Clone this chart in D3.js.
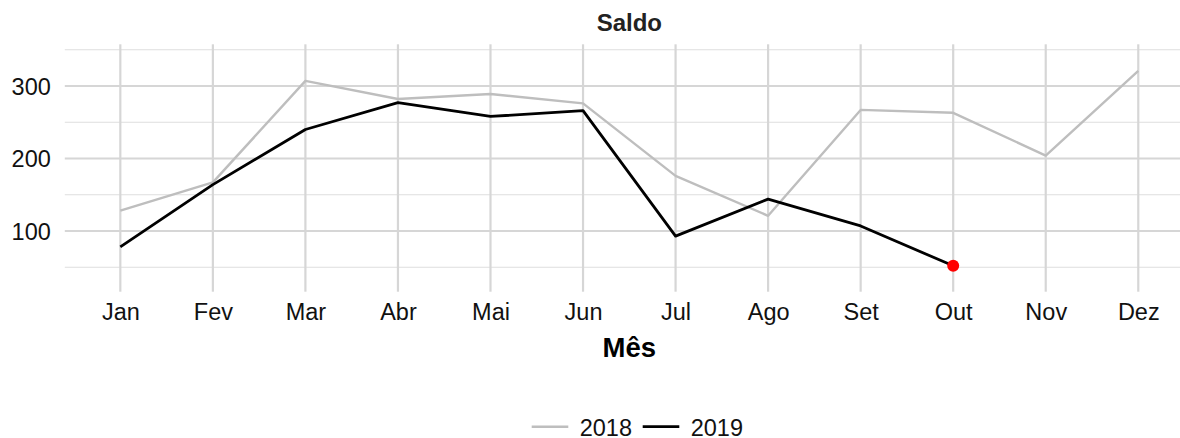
<!DOCTYPE html>
<html>
<head>
<meta charset="utf-8">
<script src="https://cdn.jsdelivr.net/npm/d3@7"></script>
<style>
  html, body { margin: 0; padding: 0; background: #fff; }
  svg { display: block; font-family: "Liberation Sans", Arial, sans-serif; }
</style>
</head>
<body>
<svg id="chart" width="1180" height="438"></svg>
<script>
const months = ["Jan","Fev","Mar","Abr","Mai","Jun","Jul","Ago","Set","Out","Nov","Dez"];
const saldo2018 = [128, 167, 307, 282, 289, 276, 176, 121, 267, 263, 204, 321];
const saldo2019 = [78, 164, 240, 277, 258, 266, 93, 144, 107, 52];
const yMajorTicks = [100, 200, 300];
const yMinorTicks = [50, 150, 250, 350];
const seriesNames = ["2018", "2019"];

(function () {
const svg = d3.select("#chart");
const pLeft = 64.8, pRight = 1193.8, pTop = 44.3, pBottom = 291.7;

const x = d3.scalePoint().domain(months).range([pLeft, pRight]).padding(0.6);
const y = d3.scaleLinear().domain([16.3, 357.5]).range([pBottom, pTop]);

const grid = svg.append("g");
grid.selectAll("line.minor").data(yMinorTicks).enter().append("line")
  .attr("x1", pLeft).attr("x2", pRight)
  .attr("y1", d => y(d)).attr("y2", d => y(d))
  .attr("stroke", "#dedede").attr("stroke-width", 1.2);
grid.selectAll("line.majorh").data(yMajorTicks).enter().append("line")
  .attr("x1", pLeft).attr("x2", pRight)
  .attr("y1", d => y(d)).attr("y2", d => y(d))
  .attr("stroke", "#d6d6d6").attr("stroke-width", 2.2);
grid.selectAll("line.majorv").data(months).enter().append("line")
  .attr("x1", d => x(d)).attr("x2", d => x(d))
  .attr("y1", pTop).attr("y2", pBottom)
  .attr("stroke", "#d6d6d6").attr("stroke-width", 2.2);

// axes
const yAxis = d3.axisLeft(y).tickValues(yMajorTicks).tickSize(0).tickPadding(14);
const yg = svg.append("g").attr("transform", `translate(${pLeft},0)`).call(yAxis);
yg.select(".domain").remove();
yg.selectAll("text").attr("font-size", 23.5).attr("fill", "#111")
  .attr("font-family", "Liberation Sans, Arial, sans-serif").attr("dy", "0.36em");

const xAxis = d3.axisBottom(x).tickSize(0).tickPadding(12);
const xg = svg.append("g").attr("transform", `translate(0,${pBottom})`).call(xAxis);
xg.select(".domain").remove();
xg.selectAll("text").attr("font-size", 23.5).attr("fill", "#111")
  .attr("font-family", "Liberation Sans, Arial, sans-serif");

// lines
const line = d3.line().x((d, i) => x(months[i])).y(d => y(d));
svg.append("path").datum(saldo2018).attr("d", line)
  .attr("fill", "none").attr("stroke", "#bebebe").attr("stroke-width", 2.4)
  .attr("stroke-linejoin", "round");
svg.append("path").datum(saldo2019).attr("d", line)
  .attr("fill", "none").attr("stroke", "#000").attr("stroke-width", 2.8)
  .attr("stroke-linejoin", "round");

// last point
const lastIdx = saldo2019.length - 1;
svg.append("circle")
  .attr("cx", x(months[lastIdx])).attr("cy", y(saldo2019[lastIdx]))
  .attr("r", 6).attr("fill", "#ff0000");

// title
svg.append("text").attr("x", (pLeft + pRight) / 2).attr("y", 30.7)
  .attr("text-anchor", "middle").attr("font-size", 24).attr("font-weight", "bold")
  .attr("fill", "#222").text("Saldo");

// x title
svg.append("text").attr("x", (pLeft + pRight) / 2).attr("y", 356.7)
  .attr("text-anchor", "middle").attr("font-size", 27.5).attr("font-weight", "bold")
  .attr("fill", "#000").text("Mês");

// legend
const legendItems = [
  {name: seriesNames[0], color: "#bebebe", w: 2.4, x0: 531.7},
  {name: seriesNames[1], color: "#000", w: 2.8, x0: 642.7}
];
const lg = svg.append("g");
legendItems.forEach(it => {
  lg.append("line").attr("x1", it.x0).attr("x2", it.x0 + 36.6)
    .attr("y1", 426.7).attr("y2", 426.7)
    .attr("stroke", it.color).attr("stroke-width", it.w);
  lg.append("text").attr("x", it.x0 + 48).attr("y", 435.5)
    .attr("font-size", 23.5).attr("fill", "#111").text(it.name);
});
})();
</script>
</body>
</html>
